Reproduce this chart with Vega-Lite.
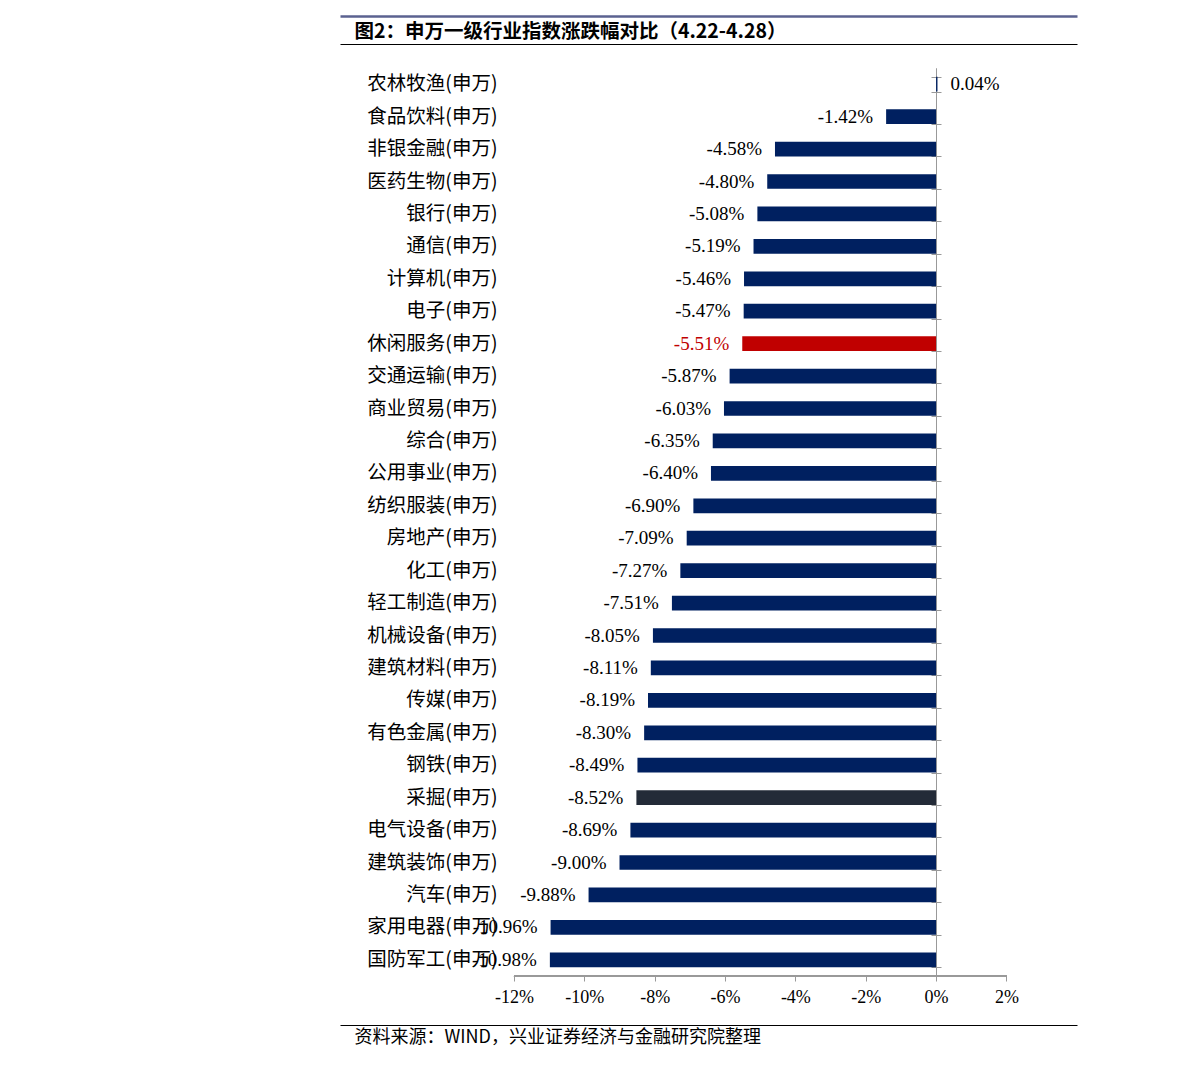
{
  "$schema": "https://vega.github.io/schema/vega-lite/v6.json",
  "width": 737,
  "height": 908,
  "autosize": {"type": "none"},
  "padding": {"left": 340, "top": 68, "right": 114, "bottom": 93},
  "background": "white",
  "config": {
    "view": {"stroke": null},
    "locale": {"number": {"decimal": ".", "thousands": ",", "grouping": [3], "currency": ["", ""], "minus": "-"}}
  },
  "data": {
    "values": [
      {"ind": "农林牧渔(申万)", "v": 0.0004},
      {"ind": "食品饮料(申万)", "v": -0.0142},
      {"ind": "非银金融(申万)", "v": -0.0458},
      {"ind": "医药生物(申万)", "v": -0.0480},
      {"ind": "银行(申万)", "v": -0.0508},
      {"ind": "通信(申万)", "v": -0.0519},
      {"ind": "计算机(申万)", "v": -0.0546},
      {"ind": "电子(申万)", "v": -0.0547},
      {"ind": "休闲服务(申万)", "v": -0.0551},
      {"ind": "交通运输(申万)", "v": -0.0587},
      {"ind": "商业贸易(申万)", "v": -0.0603},
      {"ind": "综合(申万)", "v": -0.0635},
      {"ind": "公用事业(申万)", "v": -0.0640},
      {"ind": "纺织服装(申万)", "v": -0.0690},
      {"ind": "房地产(申万)", "v": -0.0709},
      {"ind": "化工(申万)", "v": -0.0727},
      {"ind": "轻工制造(申万)", "v": -0.0751},
      {"ind": "机械设备(申万)", "v": -0.0805},
      {"ind": "建筑材料(申万)", "v": -0.0811},
      {"ind": "传媒(申万)", "v": -0.0819},
      {"ind": "有色金属(申万)", "v": -0.0830},
      {"ind": "钢铁(申万)", "v": -0.0849},
      {"ind": "采掘(申万)", "v": -0.0852},
      {"ind": "电气设备(申万)", "v": -0.0869},
      {"ind": "建筑装饰(申万)", "v": -0.0900},
      {"ind": "汽车(申万)", "v": -0.0988},
      {"ind": "家用电器(申万)", "v": -0.1096},
      {"ind": "国防军工(申万)", "v": -0.1098}
    ]
  },
  "resolve": {"axis": {"x": "independent", "y": "independent"}},
  "layer": [
    {
      "mark": {"type": "bar"},
      "encoding": {
        "y": {
          "field": "ind", "type": "nominal", "sort": null,
          "scale": {"paddingInner": 0.546, "paddingOuter": 0.273},
          "axis": {"orient": "left", "offset": -161, "domain": false, "ticks": false, "grid": false,
                   "labelPadding": 4, "labelFont": "Noto Sans CJK SC", "labelFontSize": 19.5,
                   "labelColor": "#000000", "labelLimit": 0, "title": null}
        },
        "x": {
          "field": "v", "type": "quantitative",
          "scale": {"domain": [-0.16947, 0.04007], "nice": false, "zero": false},
          "axis": {"orient": "bottom", "values": [-0.12, -0.1, -0.08, -0.06, -0.04, -0.02, 0, 0.02],
                   "format": ".0%", "domain": false, "grid": false, "tickColor": "#999999", "tickSize": 5,
                   "labelFont": "Liberation Serif", "labelFontSize": 18, "labelColor": "#000000",
                   "labelPadding": 7, "labelFlush": false, "title": null}
        },
        "x2": {"datum": 0},
        "color": {
          "condition": [
            {"test": "datum.ind === '休闲服务(申万)'", "value": "#C00000"},
            {"test": "datum.ind === '采掘(申万)'", "value": "#232B38"}
          ],
          "value": "#002060"
        }
      }
    },
    {
      "transform": [{"filter": "datum.v < 0"}],
      "mark": {"type": "text", "align": "right", "baseline": "middle", "dx": -13, "font": "Liberation Serif", "fontSize": 19},
      "encoding": {
        "y": {"field": "ind", "type": "nominal", "sort": null, "axis": null},
        "x": {"field": "v", "type": "quantitative", "axis": null},
        "text": {"field": "v", "type": "quantitative", "format": ".2%"},
        "color": {"condition": {"test": "datum.ind === '休闲服务(申万)'", "value": "#C00000"}, "value": "#000000"}
      }
    },
    {
      "transform": [{"filter": "datum.v >= 0"}],
      "mark": {"type": "text", "align": "left", "baseline": "middle", "dx": 13, "font": "Liberation Serif", "fontSize": 19, "color": "#000000"},
      "encoding": {
        "y": {"field": "ind", "type": "nominal", "sort": null, "axis": null},
        "x": {"field": "v", "type": "quantitative", "axis": null},
        "text": {"field": "v", "type": "quantitative", "format": ".2%"}
      }
    },
    {
      "mark": {"type": "rule", "color": "#999999", "strokeWidth": 1},
      "encoding": {
        "x": {"datum": -0.12, "type": "quantitative", "axis": null},
        "x2": {"datum": 0.02},
        "y": {"value": "height"}
      }
    },
    {
      "mark": {"type": "point", "opacity": 0},
      "encoding": {
        "y": {
          "field": "ind", "type": "nominal", "sort": null,
          "axis": {"orient": "right", "offset": -141, "domain": true, "domainColor": "#999999", "domainWidth": 1,
                   "ticks": true, "tickBand": "extent", "tickSize": 5, "tickColor": "#999999",
                   "labels": false, "grid": false, "title": null}
        },
        "x": {
          "field": "v", "type": "quantitative",
          "axis": {"orient": "top", "offset": 24, "domain": true, "domainColor": "#000000", "domainWidth": 1,
                   "ticks": false, "labels": false, "grid": false,
                   "title": "图2：申万一级行业指数涨跌幅对比（4.22-4.28）",
                   "titleX": 14, "titleY": -13, "titleAlign": "left", "titleAnchor": "start", "titleBaseline": "middle",
                   "titleFont": "Noto Sans CJK SC", "titleFontSize": 19.5, "titleFontWeight": "bold", "titleColor": "#000000"}
        }
      }
    },
    {
      "mark": {"type": "point", "opacity": 0},
      "encoding": {
        "y": {
          "field": "ind", "type": "nominal", "sort": null,
          "axis": {"orient": "left", "offset": -596, "domain": true, "domainColor": "#999999", "domainWidth": 1,
                   "ticks": true, "tickBand": "extent", "tickSize": 5, "tickColor": "#999999",
                   "labels": false, "grid": false, "title": null}
        },
        "x": {
          "field": "v", "type": "quantitative",
          "axis": {"orient": "bottom", "offset": 49, "domain": true, "domainColor": "#000000", "domainWidth": 1,
                   "ticks": false, "labels": false, "grid": false,
                   "title": "资料来源：WIND，兴业证券经济与金融研究院整理",
                   "titleX": 14, "titleY": 12, "titleAlign": "left", "titleAnchor": "start", "titleBaseline": "middle",
                   "titleFont": "Noto Sans CJK SC", "titleFontSize": 18, "titleFontWeight": "normal", "titleColor": "#000000"}
        }
      }
    },
    {
      "mark": {"type": "point", "opacity": 0},
      "encoding": {
        "y": {"field": "ind", "type": "nominal", "sort": null, "axis": null},
        "x": {
          "field": "v", "type": "quantitative",
          "axis": {"orient": "top", "offset": 52, "domain": true, "domainColor": "#5B6290", "domainWidth": 2.5,
                   "ticks": false, "labels": false, "grid": false, "title": null}
        }
      }
    }
  ]
}
